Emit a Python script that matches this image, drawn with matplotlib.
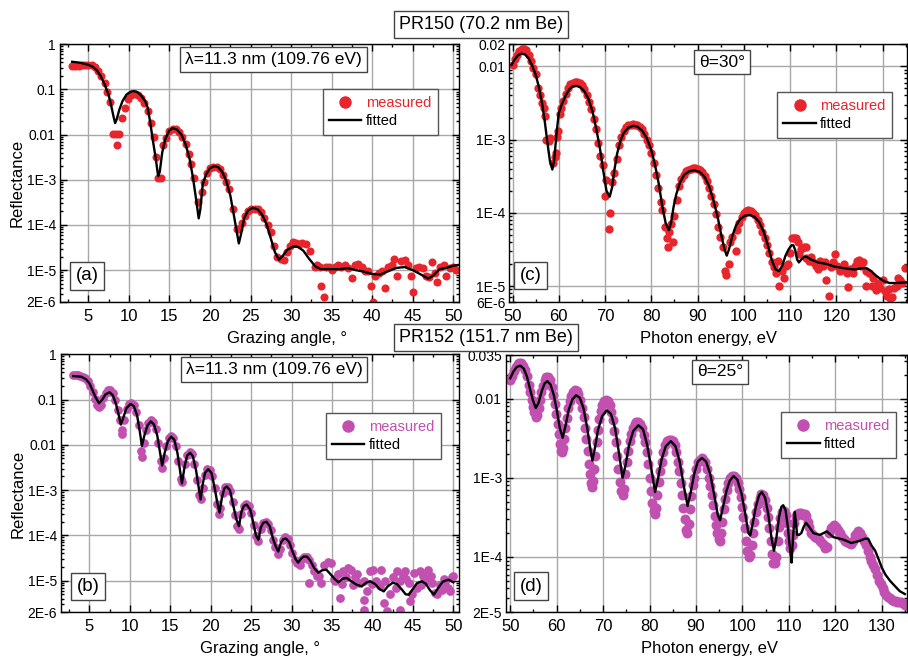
import numpy as np
import matplotlib
matplotlib.use('Agg')
import matplotlib.pyplot as plt
from matplotlib.lines import Line2D
from matplotlib.ticker import MultipleLocator, LogLocator, NullFormatter

plt.rcParams['font.family'] = ['Liberation Sans', 'DejaVu Sans']

red = '#e8252c'
purple = '#c150b1'

# ---------------------------------------------------------------
# PR150, angular scan at 11.3 nm  (panel a)
# ---------------------------------------------------------------
a_fit_x = [3.0, 4.0, 5.0, 5.5, 6.0, 6.5, 7.0, 7.5, 7.8, 8.1,
           8.3, 8.5, 8.8, 9.2, 9.7, 10.2, 10.6, 11.0, 11.5, 12.0,
           12.3, 12.6, 12.9, 13.3, 13.6, 13.8, 14.1, 14.5, 15.0, 15.4, 15.9,
           16.5, 17.0, 17.5, 17.9, 18.3, 18.6, 18.8, 19.1, 19.5, 20.0,
           20.5, 21.0, 21.5, 22.0, 22.5, 22.9, 23.3, 23.55, 23.8, 24.2,
           24.7, 25.3, 25.9, 26.5, 27.0, 27.5, 28.0, 28.5, 29.0, 29.5,
           30.2, 30.8, 31.5, 32.2, 33.0, 33.7, 35.0, 36.0, 37.0, 38.0,
           39.0, 40.0, 41.0, 42.0, 43.0, 44.0, 45.0, 46.0, 46.9, 47.5,
           48.3, 49.0, 50.0, 50.6]
a_fit_y = [0.41, 0.39, 0.35, 0.32, 0.27, 0.20, 0.13, 0.075, 0.045, 0.025,
           0.018, 0.022, 0.035, 0.055, 0.077, 0.089, 0.092, 0.088, 0.074, 0.055,
           0.040, 0.020, 0.0085, 0.0030, 0.0012, 0.0015, 0.004, 0.0082, 0.0125, 0.0139, 0.0130,
           0.0098, 0.0060, 0.0028, 0.0011, 3.5e-4, 1.4e-4, 2.2e-4, 8e-4, 1.3e-3, 1.8e-3,
           2.0e-3, 1.9e-3, 1.5e-3, 9.5e-4, 4.5e-4, 1.8e-4, 7e-5, 3.9e-5, 6e-5, 1.4e-4,
           2.1e-4, 2.4e-4, 2.2e-4, 1.6e-4, 1.0e-4, 5e-5, 2.5e-5, 1.7e-5, 2.1e-5, 2.8e-5,
           3.3e-5, 3.3e-5, 2.7e-5, 1.8e-5, 1.2e-5, 1.05e-5, 1.05e-5, 1.05e-5, 1.1e-5, 1.0e-5,
           9.2e-6, 8.2e-6, 8.0e-6, 9.5e-6, 1.12e-5, 1.17e-5, 1.0e-5, 8e-6, 6.5e-6, 7.5e-6,
           1.05e-5, 1.1e-5, 1.25e-5, 1.3e-5]

a_meas_x = [3.0, 3.4, 3.8, 4.2, 4.6, 5.0, 5.4, 5.8, 6.2, 6.6,
            7.0, 7.3, 7.7, 8.0, 8.4, 8.5, 8.8, 9.1, 9.5, 9.9,
            10.3, 10.7, 11.1, 11.5, 11.9, 12.3, 12.7, 13.1, 13.35, 13.6,
            13.9, 14.25, 14.6, 15.0, 15.4, 15.8, 16.2, 16.6, 17.0, 17.4,
            17.7, 18.0, 18.55, 19.0, 19.3, 19.6, 20.0, 20.4, 20.8, 21.2,
            21.6, 22.0, 22.3, 22.8, 23.3, 23.6, 23.9, 24.3, 24.7, 25.1,
            25.5, 25.9, 26.3, 26.7, 27.1, 27.5, 27.9, 28.3, 28.7, 29.1,
            29.5, 29.9, 30.2, 30.6, 31.0, 31.4, 31.8, 32.3, 32.9, 33.2,
            33.5, 33.7, 34.1, 34.3, 34.7, 35.0, 35.4, 35.8, 36.2, 36.6,
            37.0, 37.5, 37.9, 38.3, 38.7, 39.1, 39.5, 39.8, 40.1, 40.4,
            40.8, 41.2, 41.6, 42.0, 42.4, 42.7, 43.0, 43.6, 44.0, 44.4,
            44.8, 45.05, 45.4, 45.8, 46.2, 46.6, 47.0, 47.4, 47.7, 47.95,
            48.4, 48.8, 49.1, 49.6, 50.0, 50.3]
a_meas_y = [0.33, 0.33, 0.33, 0.34, 0.35, 0.35, 0.34, 0.31, 0.26, 0.20,
            0.14, 0.09, 0.052, 0.0105, 0.0105, 0.0058, 0.0105, 0.023, 0.038, 0.060,
            0.075, 0.078, 0.074, 0.066, 0.050, 0.033, 0.018, 0.009, 0.0032, 0.00107,
            0.00107, 0.0059, 0.0085, 0.0118, 0.0135, 0.0130, 0.0112, 0.0088, 0.0062, 0.0038,
            0.0022, 0.0011, 3.3e-4, 5.5e-4, 9e-4, 1.4e-3, 1.8e-3, 1.9e-3, 1.9e-3, 1.7e-3,
            1.3e-3, 9e-4, 6.4e-4, 2.2e-4, 8.3e-5, 8e-5, 1.1e-4, 1.6e-4, 2.0e-4, 2.2e-4,
            2.3e-4, 2.2e-4, 1.9e-4, 1.4e-4, 1.0e-4, 7e-5, 3.5e-5, 2.0e-5, 1.8e-5, 1.7e-5,
            2.5e-5, 3.5e-5, 4.2e-5, 4.0e-5, 3.8e-5, 3.9e-5, 3.8e-5, 2.7e-5, 1.2e-5, 1.3e-5,
            1.15e-5, 4.4e-6, 2.5e-6, 1.15e-5, 1.2e-5, 1.0e-5, 1.2e-5, 1.3e-5, 1.2e-5, 1.3e-5,
            1.1e-5, 6.8e-6, 1.3e-5, 1.4e-5, 1.15e-5, 9.5e-6, 9.5e-6, 4.5e-6, 2.0e-6, 7.5e-6,
            8.5e-6, 9.5e-6, 4.0e-6, 1.2e-5, 1.3e-5, 1.8e-5, 7.3e-6, 1.6e-5, 1.7e-5, 1.3e-5,
            7.5e-6, 3.3e-6, 1.1e-5, 1.2e-5, 1.1e-5, 7.5e-6, 7.2e-6, 1.5e-5, 8.5e-6, 5.4e-6,
            1.2e-5, 1.3e-5, 7.3e-6, 1.1e-5, 1.2e-5, 1.0e-5]

# ---------------------------------------------------------------
# PR150, energy scan at 30 deg  (panel c)
# ---------------------------------------------------------------
c_fit_x = [49.8, 50.5, 51.2, 51.9, 52.7, 53.5, 54.3, 55.0, 55.7, 56.4,
           57.0, 57.6, 58.1, 58.6, 59.0, 59.5, 60.0, 60.7, 61.5, 62.3,
           63.0, 63.8, 64.6, 65.5, 66.4, 67.3, 68.1, 68.9, 69.6, 70.3,
           71.0, 71.5, 72.0, 72.6, 73.3, 74.0, 75.0, 76.1, 77.0, 78.0,
           79.0, 80.0, 80.8, 81.6, 82.4, 83.1, 83.8, 84.3, 84.8, 85.4,
           86.2, 87.1, 88.2, 89.4, 90.5, 91.5, 92.5, 93.4, 94.3, 95.1,
           95.8, 96.3, 96.8, 97.5, 98.3, 99.2, 100.2, 101.3, 102.3, 103.3,
           104.3, 105.2, 106.0, 106.8, 107.6, 108.3, 109.0, 109.7, 110.3, 110.7,
           111.1, 111.5, 111.9, 112.4, 113.0, 113.6, 114.5, 116.0, 117.9, 119.5,
           121.0, 122.5, 124.0, 125.5, 126.5, 127.5, 128.5, 129.5, 130.5, 131.5,
           133.0, 135.0]
c_fit_y = [0.0105, 0.0125, 0.0142, 0.0149, 0.0145, 0.0128, 0.0100, 0.0077, 0.0052, 0.0031,
           0.0017, 8.5e-4, 5.0e-4, 3.9e-4, 5.2e-4, 1.2e-3, 2.3e-3, 3.1e-3, 4.0e-3, 4.9e-3,
           5.3e-3, 5.4e-3, 5.2e-3, 4.6e-3, 3.6e-3, 2.4e-3, 1.4e-3, 7.5e-4, 3.8e-4, 2.0e-4,
           1.66e-4, 2.2e-4, 3.8e-4, 6.4e-4, 9.5e-4, 1.22e-3, 1.45e-3, 1.54e-3, 1.50e-3, 1.33e-3,
           1.05e-3, 7.2e-4, 4.5e-4, 2.5e-4, 1.2e-4, 7.2e-5, 5.8e-5, 7.5e-5, 1.2e-4, 1.8e-4,
           2.6e-4, 3.3e-4, 3.7e-4, 3.8e-4, 3.6e-4, 3.1e-4, 2.3e-4, 1.5e-4, 9e-5, 5e-5,
           3.2e-5, 2.6e-5, 3.2e-5, 4.8e-5, 6.7e-5, 8.2e-5, 9.1e-5, 9.3e-5, 8.8e-5, 7.5e-5,
           5.5e-5, 3.6e-5, 2.3e-5, 1.7e-5, 1.6e-5, 1.9e-5, 2.6e-5, 3.2e-5, 3.6e-5, 3.6e-5,
           3.1e-5, 2.3e-5, 2.1e-5, 2.3e-5, 2.5e-5, 2.5e-5, 2.3e-5, 2.1e-5, 2.0e-5, 1.85e-5,
           1.78e-5, 1.72e-5, 1.68e-5, 1.75e-5, 1.75e-5, 1.6e-5, 1.4e-5, 1.25e-5, 1.15e-5, 1.1e-5,
           1.1e-5, 1.12e-5]

c_meas_x = [50.0, 50.5, 51.0, 51.5, 52.0, 52.5, 53.0, 53.5, 54.0, 54.5,
            55.0, 55.5, 56.0, 56.3, 56.7, 57.1, 57.3, 57.8, 58.2, 58.8,
            59.1, 59.4, 59.6, 59.9, 60.2, 60.5, 61.0, 61.5, 62.0, 62.5,
            63.0, 63.5, 64.0, 64.5, 65.0, 65.5, 66.0, 66.5, 67.0, 67.5,
            68.0, 68.5, 69.0, 69.5, 70.0, 70.3, 70.9, 71.0, 71.4, 72.0,
            72.5, 73.0, 73.5, 74.0, 74.5, 75.0, 75.5, 76.0, 76.5, 77.0,
            77.5, 78.0, 78.5, 79.0, 79.5, 80.0, 80.5, 81.0, 81.5, 82.0,
            82.4, 83.0, 83.4, 83.6, 83.8, 84.2, 84.7, 85.0, 85.5, 86.0,
            86.5, 87.0, 87.5, 88.0, 88.5, 89.0, 89.5, 90.0, 90.5, 91.0,
            91.5, 92.0, 92.5, 93.0, 93.5, 94.0, 94.5, 94.9, 95.5, 95.9,
            96.2, 96.7, 97.0, 97.5, 98.2, 98.5, 99.0, 99.5, 100.0, 100.5,
            101.0, 101.5, 102.0, 102.5, 103.0, 103.5, 104.0, 104.5, 105.0, 105.5,
            106.0, 106.5, 107.0, 107.4, 107.6, 108.2, 108.6, 109.0, 109.5, 110.0,
            110.4, 110.8, 111.3, 111.7, 112.0, 112.4, 112.9, 113.4, 113.5, 114.0,
            114.5, 115.0, 115.5, 116.0, 116.5, 117.0, 117.5, 117.8, 118.3, 118.8,
            119.3, 119.8, 120.2, 120.7, 121.2, 121.7, 122.2, 122.6, 123.0, 123.5,
            124.0, 124.4, 124.9, 125.3, 125.8, 126.3, 126.5, 127.0, 127.6, 128.0,
            128.5, 129.0, 129.5, 130.0, 130.5, 130.9, 131.3, 131.6, 132.0, 132.5,
            133.0, 133.4, 133.8, 134.2, 134.8]
c_meas_y = [0.0105, 0.0125, 0.0145, 0.016, 0.017, 0.017, 0.0165, 0.0145, 0.012, 0.0095,
            0.0078, 0.0050, 0.0040, 0.0032, 0.0027, 0.0021, 0.0010, 9.5e-4, 1.05e-3, 4.8e-4,
            5.8e-4, 6.5e-4, 1.1e-3, 1.3e-3, 2.2e-3, 2.7e-3, 3.4e-3, 4.2e-3, 5.0e-3, 5.7e-3,
            6.0e-3, 6.2e-3, 6.2e-3, 6.0e-3, 5.5e-3, 4.9e-3, 4.1e-3, 3.3e-3, 2.6e-3, 1.9e-3,
            1.4e-3, 9e-4, 6e-4, 4.5e-4, 1.7e-4, 2.8e-4, 6.1e-5, 1.0e-4, 2.6e-4, 3.5e-4,
            5.5e-4, 8.5e-4, 1.1e-3, 1.3e-3, 1.5e-3, 1.6e-3, 1.6e-3, 1.65e-3, 1.6e-3, 1.58e-3,
            1.5e-3, 1.4e-3, 1.2e-3, 1.0e-3, 8.5e-4, 6.5e-4, 4.8e-4, 3.3e-4, 2.2e-4, 1.4e-4,
            1.1e-4, 6.3e-5, 4.5e-5, 3.4e-5, 5.5e-5, 7e-5, 4e-5, 9e-5, 1.5e-4, 2.3e-4,
            2.9e-4, 3.3e-4, 3.7e-4, 3.9e-4, 4.0e-4, 4.1e-4, 4.1e-4, 4.0e-4, 3.9e-4, 3.6e-4,
            3.2e-4, 2.7e-4, 2.2e-4, 1.7e-4, 1.3e-4, 9.5e-5, 6.5e-5, 4.7e-5, 3.4e-5, 1.6e-5,
            1.4e-5, 2.0e-5, 4.0e-5, 4.6e-5, 3.0e-5, 5.8e-5, 7.2e-5, 8.8e-5, 9.8e-5, 1.05e-4,
            1.1e-4, 1.05e-4, 1.0e-4, 9.2e-5, 8.0e-5, 6.8e-5, 5.5e-5, 4.5e-5, 3.6e-5, 2.8e-5,
            2.1e-5, 1.8e-5, 1.5e-5, 2.2e-5, 1.0e-5, 1.6e-5, 1.3e-5, 1.9e-5, 2.0e-5, 2.8e-5,
            4.5e-5, 4.5e-5, 4.5e-5, 4.0e-5, 2.7e-5, 3.2e-5, 3.4e-5, 3.4e-5, 2.4e-5, 2.2e-5,
            2.5e-5, 2.1e-5, 1.9e-5, 1.7e-5, 2.2e-5, 1.9e-5, 2.1e-5, 1.2e-5, 7.4e-6, 1.8e-5,
            2.1e-5, 2.7e-5, 1.9e-5, 1.6e-5, 1.7e-5, 2.0e-5, 1.5e-5, 9.8e-6, 1.7e-5, 1.5e-5,
            1.9e-5, 2.2e-5, 2.3e-5, 1.9e-5, 2.1e-5, 1.6e-5, 1.0e-5, 1.5e-5, 1.0e-5, 1.3e-5,
            8.8e-6, 1.1e-5, 9.5e-6, 1.2e-5, 8.5e-6, 7.4e-6, 9e-6, 6.8e-6, 7e-6, 9.5e-6,
            1.0e-5, 1.3e-5, 1.2e-5, 1.1e-5, 1.75e-5]

# ---------------------------------------------------------------
# PR152, angular scan at 11.3 nm  (panel b)
# ---------------------------------------------------------------
b_fit_x = [3.0, 4.0, 4.6, 5.0, 5.4, 5.8, 6.2, 6.6, 7.0, 7.5,
           7.9, 8.3, 8.6, 8.9, 9.2, 9.6, 10.1, 10.5, 10.9, 11.2,
           11.5, 11.8, 12.2, 12.6, 13.0, 13.4, 13.7, 14.0, 14.3, 14.7,
           15.1, 15.5, 15.9, 16.2, 16.45, 16.8, 17.1, 17.45, 17.8, 18.2,
           18.5, 18.75, 19.0, 19.3, 19.7, 20.1, 20.5, 20.8, 21.1, 21.4,
           21.7, 22.0, 22.4, 22.8, 23.2, 23.5, 23.8, 24.1, 24.45, 24.9,
           25.3, 25.6, 25.9, 26.2, 26.5, 26.9, 27.3, 27.7, 28.0, 28.35,
           28.7, 29.0, 29.3, 29.7, 30.1, 30.5, 30.8, 31.2, 31.5, 31.9,
           32.3, 32.8, 33.3, 33.8, 34.3, 34.8, 35.3, 35.8, 36.3, 36.8,
           37.3, 38.0, 38.7, 39.2, 39.7, 40.3, 40.9, 41.4, 41.9, 42.5,
           43.0, 43.6, 44.1, 44.5, 44.9, 45.5, 46.1, 46.6, 47.1, 47.6,
           48.1, 48.7, 49.4, 50.0]
b_fit_y = [0.33, 0.32, 0.28, 0.23, 0.16, 0.11, 0.083, 0.10, 0.13, 0.145,
           0.125, 0.08, 0.048, 0.028, 0.04, 0.065, 0.080, 0.072, 0.045, 0.022,
           0.0095, 0.016, 0.027, 0.033, 0.028, 0.016, 0.0075, 0.0035, 0.0065, 0.012,
           0.0152, 0.013, 0.0065, 0.0028, 0.0014, 0.0035, 0.0058, 0.0067, 0.0056, 0.0027,
           0.0012, 6.2e-4, 1.3e-3, 2.4e-3, 2.9e-3, 2.4e-3, 1.1e-3, 5.5e-4, 3.2e-4, 7e-4,
           1.1e-3, 1.2e-3, 9.8e-4, 4.5e-4, 2.2e-4, 1.6e-4, 3.3e-4, 4.5e-4, 4.8e-4, 3.7e-4,
           1.8e-4, 1.0e-4, 8e-5, 1.5e-4, 1.9e-4, 2.0e-4, 1.6e-4, 8.5e-5, 6e-5, 4.4e-5,
           7e-5, 8.3e-5, 8.5e-5, 7.2e-5, 4.5e-5, 3.0e-5, 2.5e-5, 3.1e-5, 3.4e-5, 3.4e-5,
           2.8e-5, 1.9e-5, 1.5e-5, 1.7e-5, 1.75e-5, 1.4e-5, 1.1e-5, 9.2e-6, 1.1e-5, 1.15e-5,
           1.0e-5, 8.2e-6, 7.5e-6, 9e-6, 9.7e-6, 8.5e-6, 6.5e-6, 5.8e-6, 7.5e-6, 9e-6,
           8.5e-6, 6.5e-6, 5e-6, 4.9e-6, 6.2e-6, 8.8e-6, 9.7e-6, 8.5e-6, 6.2e-6, 4.9e-6,
           6.8e-6, 9.5e-6, 1.05e-5, 9.2e-6]

b_meas_x = [3.0, 3.3, 3.6, 3.9, 4.2, 4.5, 4.8, 5.1, 5.4, 5.7,
            6.0, 6.2, 6.4, 6.7, 7.0, 7.3, 7.6, 7.9, 8.2, 8.5,
            8.8, 9.0, 9.1, 9.3, 9.6, 9.9, 10.2, 10.5, 10.8, 11.1,
            11.4, 11.5, 11.7, 12.0, 12.3, 12.6, 12.9, 13.2, 13.5, 13.8,
            14.0, 14.2, 14.5, 14.8, 15.1, 15.4, 15.7, 16.0, 16.3, 16.5,
            16.8, 17.1, 17.4, 17.7, 18.0, 18.3, 18.6, 18.8, 19.0, 19.3,
            19.6, 19.9, 20.2, 20.5, 20.8, 21.0, 21.2, 21.5, 21.8, 22.1,
            22.4, 22.7, 23.0, 23.3, 23.5, 23.8, 24.1, 24.4, 24.7, 25.0,
            25.3, 25.6, 25.9, 26.2, 26.5, 26.8, 27.1, 27.4, 27.7, 28.0,
            28.3, 28.6, 28.9, 29.2, 29.5, 29.8, 30.1, 30.4, 30.7, 31.0,
            31.3, 31.6, 31.9, 32.2, 32.5, 32.8, 33.1, 32.1, 33.4, 33.7,
            34.0, 34.5, 34.9, 35.2, 35.4, 35.7, 36.0, 36.2, 36.4, 36.7,
            37.0, 37.4, 37.8, 38.1, 38.4, 38.9, 38.9, 39.0, 39.3, 39.7,
            40.1, 40.5, 40.9, 41.0, 41.4, 41.5, 41.8, 42.2, 42.6, 43.0,
            43.4, 43.4, 43.8, 44.0, 44.5, 44.6, 44.9, 45.1, 45.5, 45.9,
            46.2, 46.5, 46.9, 47.2, 47.4, 47.7, 48.0, 48.3, 48.6, 49.0,
            49.4, 49.6, 49.8, 50.0, 37.6, 39.9, 42.9, 44.2, 46.0, 48.8]
b_meas_y = [0.35, 0.35, 0.35, 0.34, 0.32, 0.30, 0.26, 0.20, 0.15, 0.105,
            0.075, 0.068, 0.075, 0.11, 0.14, 0.16, 0.16, 0.14, 0.10, 0.06,
            0.035, 0.021, 0.017, 0.035, 0.062, 0.08, 0.085, 0.075, 0.052, 0.028,
            0.0072, 0.0055, 0.011, 0.021, 0.031, 0.036, 0.032, 0.022, 0.011, 0.0045,
            0.0031, 0.0052, 0.0095, 0.014, 0.016, 0.014, 0.0095, 0.0045, 0.0018, 0.0015,
            0.0038, 0.006, 0.007, 0.0062, 0.0038, 0.0017, 8e-4, 6.5e-4, 1.1e-3, 2.2e-3,
            2.9e-3, 2.8e-3, 2.0e-3, 1.1e-3, 5e-4, 3e-4, 4e-4, 8.5e-4, 1.2e-3, 1.2e-3,
            9.5e-4, 5.5e-4, 2.8e-4, 1.6e-4, 1.4e-4, 3e-4, 4.5e-4, 5e-4, 4.4e-4, 3.1e-4,
            1.7e-4, 9.5e-5, 7.5e-5, 1.4e-4, 1.9e-4, 2.0e-4, 1.8e-4, 1.3e-4, 8e-5, 5.5e-5,
            3.8e-5, 5e-5, 8e-5, 9e-5, 8.2e-5, 6.2e-5, 4e-5, 2.8e-5, 2.4e-5, 2.2e-5,
            3.0e-5, 3.4e-5, 3.3e-5, 2.8e-5, 2.2e-5, 1.6e-5, 1.3e-5, 8.9e-6, 1.3e-5, 8.9e-6,
            2.2e-5, 2.6e-5, 2.4e-5, 1.1e-5, 1.0e-5, 1.4e-5, 4.2e-6, 8.6e-6, 1.6e-5, 1.2e-5,
            1.9e-5, 1.7e-5, 1.2e-5, 1.4e-5, 9e-6, 1.0e-5, 3.8e-6, 2.3e-6, 5.8e-6, 1.6e-5,
            1.7e-5, 1.0e-5, 7.5e-6, 1.7e-5, 3.2e-6, 1.0e-5, 2.1e-6, 5e-6, 1.2e-5, 1.6e-5,
            1.0e-5, 2.3e-6, 1.3e-5, 1.6e-5, 9e-6, 3.5e-6, 5e-6, 1.5e-5, 7e-6, 1.6e-5,
            1.3e-5, 1.0e-5, 1.7e-5, 1.3e-5, 9e-6, 5.3e-6, 5e-6, 8e-6, 6.3e-6, 9.5e-6,
            6.8e-6, 5.8e-6, 1.2e-5, 1.3e-5, 8e-6, 8.5e-6, 7e-6, 1.1e-5, 8e-6, 1.1e-5]

# ---------------------------------------------------------------
# PR152, energy scan at 25 deg  (panel d)
# ---------------------------------------------------------------
d_fit_x = [50.0, 50.7, 51.4, 52.15, 52.9, 53.6, 54.3, 54.9, 55.5, 56.1,
           56.8, 57.4, 58.0, 58.7, 59.4, 60.1, 60.7, 61.3, 61.9, 62.6,
           63.4, 64.2, 65.0, 65.8, 66.6, 67.2, 67.7, 68.2, 68.9, 69.8,
           70.8, 71.7, 72.6, 73.4, 74.2, 74.8, 75.6, 76.5, 77.6, 78.6,
           79.5, 80.4, 81.2, 81.8, 82.6, 83.5, 84.6, 85.6, 86.5, 87.4,
           88.2, 88.8, 89.6, 90.4, 91.3, 92.2, 93.1, 94.0, 94.7, 95.2,
           95.8, 96.6, 97.3, 98.1, 98.9, 99.8, 100.7, 101.3, 101.7, 102.2,
           102.9, 103.6, 104.2, 104.9, 105.6, 106.3, 106.8, 107.3, 107.9, 108.4,
           108.8, 109.3, 109.8, 110.3, 110.6, 110.9, 111.3, 111.6, 111.8, 112.2,
           112.7, 113.2, 113.7, 114.4, 115.3, 116.7, 118.2, 119.6, 121.7, 123.5,
           125.3, 126.4, 127.1, 127.8, 128.6, 129.3, 130.0, 130.8, 131.8, 133.0,
           133.9, 135.0]
d_fit_y = [0.018, 0.022, 0.025, 0.026, 0.024, 0.019, 0.013, 0.0095, 0.0076, 0.0088,
           0.0125, 0.0155, 0.0166, 0.0150, 0.011, 0.0068, 0.0042, 0.0032, 0.0045, 0.0072,
           0.0098, 0.011, 0.0102, 0.0075, 0.0042, 0.0024, 0.00165, 0.0023, 0.0040, 0.0060,
           0.0071, 0.0064, 0.0042, 0.0021, 0.0010, 0.0014, 0.0026, 0.0039, 0.0046, 0.0041,
           0.0026, 0.0013, 6.6e-4, 9.5e-4, 1.7e-3, 2.5e-3, 2.9e-3, 2.5e-3, 1.6e-3, 7.8e-4,
           4.4e-4, 6.2e-4, 1.1e-3, 1.6e-3, 1.78e-3, 1.6e-3, 1.1e-3, 5.8e-4, 3.4e-4, 2.9e-4,
           4.2e-4, 6.9e-4, 9.2e-4, 1.05e-3, 9.5e-4, 6.4e-4, 3.3e-4, 2.0e-4, 1.87e-4, 2.6e-4,
           4.3e-4, 6.0e-4, 6.6e-4, 5.6e-4, 3.4e-4, 1.7e-4, 1.2e-4, 1.7e-4, 3.2e-4, 4.3e-4,
           4.5e-4, 3.9e-4, 2.4e-4, 1.2e-4, 8.5e-5, 1.7e-4, 3.7e-4, 2.5e-4, 1.9e-4, 1.9e-4,
           2.0e-4, 2.4e-4, 2.7e-4, 2.4e-4, 2.0e-4, 1.9e-4, 2.1e-4, 1.78e-4, 1.66e-4, 1.5e-4,
           1.6e-4, 1.7e-4, 1.7e-4, 1.4e-4, 1.2e-4, 9.5e-5, 7.4e-5, 6.0e-5, 5.0e-5, 4.2e-5,
           3.7e-5, 3.4e-5]

d_meas_x = [50.0, 50.4, 50.8, 51.2, 51.6, 52.0, 52.4, 52.8, 53.2, 53.6,
            54.0, 54.3, 54.6, 54.9, 55.2, 55.5, 55.8, 56.1, 56.4, 56.7,
            57.0, 57.4, 57.8, 58.2, 58.6, 59.0, 59.3, 59.6, 59.9, 60.2,
            60.5, 60.8, 61.0, 61.2, 61.4, 61.6, 61.9, 62.2, 62.5, 62.8,
            63.1, 63.5, 63.9, 64.3, 64.7, 65.1, 65.5, 65.8, 66.1, 66.4,
            66.7, 67.0, 67.2, 67.4, 67.6, 67.8, 68.0, 68.3, 68.6, 68.9,
            69.2, 69.5, 69.8, 70.2, 70.6, 71.0, 71.4, 71.8, 72.1, 72.4,
            72.7, 73.0, 73.3, 73.6, 73.9, 74.2, 74.5, 74.8, 75.1, 75.4,
            75.7, 76.0, 76.4, 76.8, 77.2, 77.6, 78.0, 78.4, 78.8, 79.1,
            79.4, 79.7, 80.0, 80.3, 80.6, 80.9, 81.1, 81.4, 81.7, 82.0,
            82.3, 82.6, 83.0, 83.4, 83.8, 84.2, 84.6, 85.0, 85.4, 85.8,
            86.1, 86.4, 86.7, 87.0, 87.3, 87.6, 87.9, 88.1, 88.4, 88.7,
            89.0, 89.3, 89.6, 90.0, 90.4, 90.8, 91.2, 91.6, 92.0, 92.4,
            92.8, 93.1, 93.4, 93.7, 94.0, 94.3, 94.6, 94.9, 95.1, 95.4,
            95.7, 96.0, 96.3, 96.6, 97.0, 97.4, 97.8, 98.2, 98.6, 99.0,
            99.3, 99.6, 99.9, 100.2, 100.5, 100.8, 101.1, 101.4, 101.7, 102.0,
            102.3, 102.6, 102.9, 103.3, 103.7, 104.1, 104.5, 104.9, 105.2, 105.5,
            105.8, 106.1, 106.4, 106.7, 107.0, 107.3, 107.6, 107.9, 108.2, 108.6,
            109.0, 109.3, 109.6, 109.9, 110.1, 110.3, 110.6, 110.9, 111.2, 111.5,
            111.8, 112.2, 112.6, 113.0, 113.4, 113.8, 114.1, 114.4, 114.8, 115.2,
            115.6, 116.0, 116.4, 116.8, 117.2, 117.5, 117.8, 118.2, 118.6, 119.0,
            119.4, 119.8, 120.2, 120.6, 121.0, 121.4, 121.8, 122.2, 122.6, 123.0,
            123.4, 123.8, 124.2, 124.6, 125.0, 125.4, 125.8, 126.2, 126.6, 127.0,
            127.4, 127.8, 128.2, 128.6, 129.0, 129.4, 129.8, 130.2, 130.6, 131.0,
            131.4, 131.8, 132.2, 132.6, 133.0, 133.4, 133.8, 134.2, 134.6, 135.0]
d_meas_y = [0.017, 0.019, 0.022, 0.025, 0.027, 0.028, 0.028, 0.026, 0.023, 0.019,
            0.015, 0.012, 0.0095, 0.0078, 0.0067, 0.0058, 0.0062, 0.0075, 0.0095, 0.012,
            0.0145, 0.017, 0.0185, 0.0185, 0.017, 0.014, 0.011, 0.0085, 0.0064, 0.0048,
            0.0036, 0.0027, 0.0022, 0.0021, 0.0024, 0.0031, 0.0042, 0.0057, 0.0075, 0.0092,
            0.0108, 0.0122, 0.0127, 0.0125, 0.0115, 0.0097, 0.0075, 0.0058, 0.0043, 0.0031,
            0.0022, 0.0015, 0.0011, 8.5e-4, 7.6e-4, 9e-4, 1.3e-3, 1.9e-3, 2.8e-3, 4.0e-3,
            0.0055, 0.0070, 0.0083, 0.0093, 0.0097, 0.0094, 0.0084, 0.0068, 0.0053, 0.0039,
            0.0028, 0.0019, 0.0013, 8.8e-4, 6.8e-4, 6.0e-4, 7.2e-4, 1.1e-3, 1.6e-3, 2.2e-3,
            0.0029, 0.0036, 0.0043, 0.0048, 0.0050, 0.0050, 0.0048, 0.0043, 0.0035, 0.0028,
            0.0021, 0.0015, 0.0010, 6.8e-4, 4.8e-4, 3.8e-4, 3.5e-4, 4.2e-4, 6.0e-4, 8.8e-4,
            0.0012, 0.0016, 0.0021, 0.0026, 0.0029, 0.0030, 0.0030, 0.0029, 0.0026, 0.0021,
            0.0016, 0.0012, 8.5e-4, 6.0e-4, 4.2e-4, 3.0e-4, 2.2e-4, 2.0e-4, 2.6e-4, 4.0e-4,
            5.8e-4, 8.0e-4, 1.0e-3, 1.3e-3, 1.6e-3, 1.7e-3, 1.8e-3, 1.7e-3, 1.6e-3, 1.3e-3,
            1.0e-3, 7.8e-4, 6.0e-4, 4.5e-4, 3.3e-4, 2.5e-4, 2.0e-4, 1.7e-4, 1.6e-4, 2.0e-4,
            2.8e-4, 4.0e-4, 5.4e-4, 7.0e-4, 8.6e-4, 9.8e-4, 1.05e-3, 1.05e-3, 9.8e-4, 8.7e-4,
            7.2e-4, 5.7e-4, 4.3e-4, 3.2e-4, 2.3e-4, 1.6e-4, 1.2e-4, 1.0e-4, 1.05e-4, 1.4e-4,
            2.0e-4, 2.8e-4, 3.7e-4, 4.7e-4, 5.6e-4, 6.2e-4, 6.0e-4, 5.2e-4, 4.2e-4, 3.2e-4,
            2.3e-4, 1.6e-4, 1.1e-4, 8.5e-5, 8.3e-5, 1.0e-4, 1.6e-4, 2.4e-4, 3.1e-4, 3.7e-4,
            3.8e-4, 3.4e-4, 2.7e-4, 2.0e-4, 1.6e-4, 1.3e-4, 1.4e-4, 1.9e-4, 2.7e-4, 3.3e-4,
            3.5e-4, 3.6e-4, 3.6e-4, 3.4e-4, 3.5e-4, 3.3e-4, 2.8e-4, 2.4e-4, 2.0e-4, 1.9e-4,
            1.8e-4, 1.75e-4, 1.7e-4, 1.6e-4, 1.5e-4, 1.4e-4, 1.3e-4, 1.35e-4, 2.0e-4, 2.3e-4,
            2.4e-4, 2.5e-4, 2.4e-4, 2.2e-4, 2.0e-4, 1.8e-4, 1.7e-4, 1.6e-4, 1.55e-4, 1.5e-4,
            1.45e-4, 1.6e-4, 1.9e-4, 2.0e-4, 2.1e-4, 2.0e-4, 1.8e-4, 1.6e-4, 1.4e-4, 1.2e-4,
            1.0e-4, 9.0e-5, 8.0e-5, 7.0e-5, 6.0e-5, 5.0e-5, 4.5e-5, 4.0e-5, 3.6e-5, 3.3e-5,
            3.1e-5, 3.0e-5, 2.9e-5, 2.8e-5, 2.8e-5, 2.7e-5, 2.7e-5, 2.7e-5, 2.6e-5, 2.5e-5]


def setup_panel(ax, xlim, ylim, xmajor, yticks, ylabels):
    ax.set_yscale('log')
    ax.set_xlim(xlim)
    ax.set_ylim(ylim)
    ax.xaxis.set_major_locator(MultipleLocator(xmajor))
    ax.xaxis.set_minor_locator(MultipleLocator(xmajor / 2))
    ax.set_yticks(yticks, labels=ylabels)
    ax.yaxis.set_minor_locator(LogLocator(base=10, subs=np.arange(2, 10)))
    ax.yaxis.set_minor_formatter(NullFormatter())
    ax.grid(True, which='major', color='#a8a8a8', lw=1)
    ax.set_axisbelow(True)
    ax.tick_params(which='both', direction='in', top=True, right=True, width=1)
    ax.tick_params(which='major', length=5)
    ax.tick_params(which='minor', length=2.5)
    ax.tick_params(axis='x', labelsize=12, pad=5)
    ax.tick_params(axis='y', labelsize=10, pad=3)
    for sp in ax.spines.values():
        sp.set_linewidth(1)


def draw_panel(ax, mx, my, fx, fy, color, ms):
    ax.plot(mx, my, 'o', color=color, ms=ms, mec='none', zorder=2)
    ax.plot(fx, fy, '-', color='black', lw=1.7, zorder=3)
    handles = [Line2D([], [], marker='o', ls='none', color=color, ms=9, mec='none'),
               Line2D([], [], color='black', lw=1.7)]
    return handles


def add_legend(ax, handles, color, anchor):
    leg = ax.legend(handles, ['measured', 'fitted'], loc='upper right',
                    bbox_to_anchor=anchor, fontsize=10.5, frameon=True,
                    fancybox=False, framealpha=1, edgecolor='#555555',
                    handlelength=2.2, handletextpad=0.3, borderpad=0.45,
                    labelspacing=0.3, labelcolor=[color, 'black'])
    leg.get_frame().set_linewidth(1)


box = dict(boxstyle='square,pad=0.28', fc='white', ec='#444444', lw=1)

fig = plt.figure(figsize=(9.08, 6.56), dpi=100)
ax_a = fig.add_axes([0.0661, 0.5401, 0.4394, 0.3924])
ax_c = fig.add_axes([0.5609, 0.5392, 0.4377, 0.3933])
ax_b = fig.add_axes([0.0672, 0.0666, 0.4383, 0.3933])
ax_d = fig.add_axes([0.5573, 0.0666, 0.4413, 0.3915])

ang_ticks = [2e-6, 1e-5, 1e-4, 1e-3, 1e-2, 0.1, 1]
ang_labels = ['2E-6', '1E-5', '1E-4', '1E-3', '0.01', '0.1', '1']

# angular scans
for ax, mx, my, fx, fy, col, ms, anchor, tag in [
        (ax_a, a_meas_x, a_meas_y, a_fit_x, a_fit_y, red, 5.8, (0.965, 0.854), '(a)'),
        (ax_b, b_meas_x, b_meas_y, b_fit_x, b_fit_y, purple, 6.3, (0.972, 0.80), '(b)')]:
    setup_panel(ax, (1.5, 50.7), (2e-6, 1), 5, ang_ticks, ang_labels)
    h = draw_panel(ax, mx, my, fx, fy, col, ms)
    add_legend(ax, h, col, anchor)
    ax.set_ylabel('Reflectance', fontsize=12)
    ax.yaxis.set_label_coords(-0.088, 0.46)
    ax.text(0.535, 0.94, 'λ=11.3 nm (109.76 eV)', transform=ax.transAxes,
            ha='center', va='center', fontsize=12.5, bbox=box)
    ax.text(0.068, 0.10, tag, transform=ax.transAxes, ha='center', va='center',
            fontsize=13.5, bbox=box)
    ax.set_xlabel('Grazing angle, °', fontsize=12)

ax_a.xaxis.set_label_coords(0.568, -0.112)
ax_b.xaxis.set_label_coords(0.50, -0.111)

# energy scans
setup_panel(ax_c, (49.3, 135.2), (6e-6, 0.02), 10,
            [6e-6, 1e-5, 1e-4, 1e-3, 1e-2, 0.02],
            ['6E-6', '1E-5', '1E-4', '1E-3', '0.01', '0.02'])
h = draw_panel(ax_c, c_meas_x, c_meas_y, c_fit_x, c_fit_y, red, 6.0)
add_legend(ax_c, h, red, (0.981, 0.842))
ax_c.text(0.535, 0.931, 'θ=30°', transform=ax_c.transAxes, ha='center',
          va='center', fontsize=12.5, bbox=box)
ax_c.text(0.053, 0.104, '(c)', transform=ax_c.transAxes, ha='center',
          va='center', fontsize=13.5, bbox=box)
ax_c.set_xlabel('Photon energy, eV', fontsize=12)
ax_c.xaxis.set_label_coords(0.50, -0.111)

setup_panel(ax_d, (49.1, 135.4), (2e-5, 0.035), 10,
            [2e-5, 1e-4, 1e-3, 1e-2, 0.035],
            ['2E-5', '1E-4', '1E-3', '0.01', '0.035'])
h = draw_panel(ax_d, d_meas_x, d_meas_y, d_fit_x, d_fit_y, purple, 7.2)
add_legend(ax_d, h, purple, (0.991, 0.807))
ax_d.text(0.534, 0.936, 'θ=25°', transform=ax_d.transAxes, ha='center',
          va='center', fontsize=12.5, bbox=box)
ax_d.text(0.062, 0.102, '(d)', transform=ax_d.transAxes, ha='center',
          va='center', fontsize=13.5, bbox=box)
ax_d.set_xlabel('Photon energy, eV', fontsize=12)
ax_d.xaxis.set_label_coords(0.507, -0.112)

# sample headers
fig.text(0.530, 0.962, 'PR150 (70.2 nm Be)', ha='center', va='center',
         fontsize=13, bbox=box)
fig.text(0.535, 0.485, 'PR152 (151.7 nm Be)', ha='center', va='center',
         fontsize=13, bbox=box)

fig.savefig('out.png', dpi=100)
